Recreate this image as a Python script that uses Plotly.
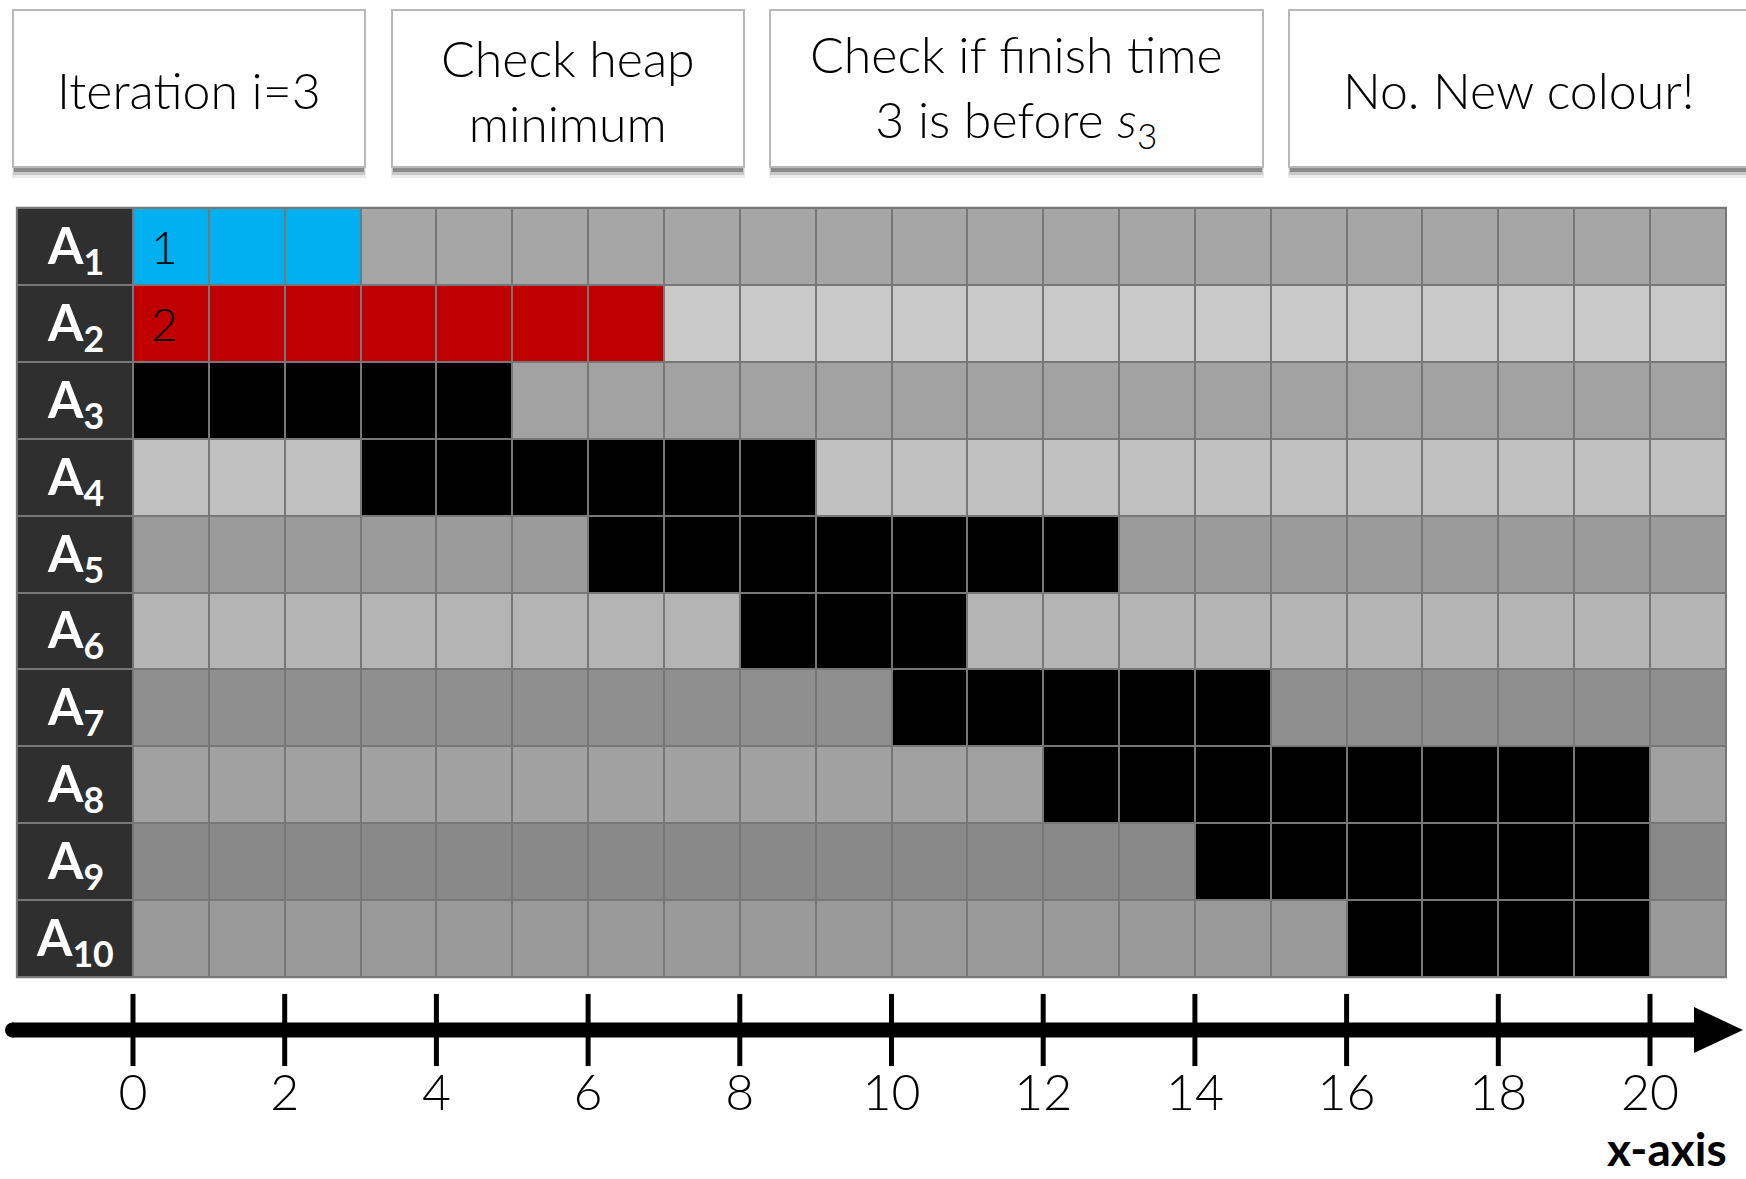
import plotly.graph_objects as go

# ---------------- data ----------------
row_labels = ["A<sub>1</sub>", "A<sub>2</sub>", "A<sub>3</sub>", "A<sub>4</sub>", "A<sub>5</sub>",
              "A<sub>6</sub>", "A<sub>7</sub>", "A<sub>8</sub>", "A<sub>9</sub>", "A<sub>10</sub>"]
interval_start = [0, 0, 0, 3, 6, 8, 10, 12, 14, 16]
interval_end = [3, 7, 5, 9, 13, 11, 15, 20, 20, 20]
interval_kind = ["blue", "red", "black", "black", "black", "black", "black", "black", "black", "black"]
cell_numbers = ["1", "2", "", "", "", "", "", "", "", ""]
row_shades = ["#a6a6a6", "#c9c9c9", "#a2a2a2", "#c0c0c0", "#9b9b9b",
              "#b4b4b4", "#8f8f8f", "#a1a1a1", "#898989", "#9a9a9a"]
n_columns = 21
tick_values = [0, 2, 4, 6, 8, 10, 12, 14, 16, 18, 20]
tick_labels = ["0", "2", "4", "6", "8", "10", "12", "14", "16", "18", "20"]
header_texts = ["Iteration i=3", "Check heap<br>minimum",
                "Check if finish time<br>3 is before <i>s</i><sub>3</sub>", "No. New colour!"]
axis_title = "x-axis"

# ---------------- geometry (pixels) ----------------
W, H = 1746, 1179
X0_PX, COL_PX = 133.0, 75.85      # x=0 pixel, px per unit
Y0_PX, ROW_PX = 208.0, 76.9       # top of row 1, px per row


def dx(px):
    return (px - X0_PX) / COL_PX


def dy(py):
    return (py - Y0_PX) / ROW_PX


def pxp(px):
    return px / W


def pyp(py):
    return 1 - py / H


kind_color = {"black": "#000000", "blue": "#00b0f0", "red": "#c00000"}
colors = row_shades + [kind_color["black"], kind_color["blue"], kind_color["red"]]
kind_code = {"black": 10, "blue": 11, "red": 12}
ncodes = len(colors)
colorscale = []
for i, c in enumerate(colors):
    colorscale.append([i / ncodes, c])
    colorscale.append([(i + 1) / ncodes, c])

z = []
for r in range(len(row_labels)):
    row = []
    for c in range(n_columns):
        if interval_start[r] <= c < interval_end[r]:
            row.append(kind_code[interval_kind[r]] + 0.5)
        else:
            row.append(r + 0.5)
    z.append(row)

fig = go.Figure()

fig.add_trace(go.Heatmap(
    z=z, x=list(range(n_columns + 1)), y=list(range(len(row_labels) + 1)),
    colorscale=colorscale, zmin=0, zmax=ncodes, showscale=False,
    xgap=2, ygap=2, hoverinfo="skip"))

# label column
label_left = dx(17)
fig.add_trace(go.Heatmap(
    z=[[0] for _ in row_labels], x=[label_left, 0], y=list(range(len(row_labels) + 1)),
    colorscale=[[0, "#2f2f2f"], [1, "#2f2f2f"]], showscale=False,
    xgap=2, ygap=2, hoverinfo="skip"))

shapes = []
# gray grid background (shows through the heatmap gaps)
shapes.append(dict(type="rect", xref="x", yref="y", x0=label_left - 0.015, x1=n_columns + 0.015,
                   y0=-0.015, y1=len(row_labels) + 0.015,
                   fillcolor="#777777", line=dict(width=0), layer="below"))

# time axis line + arrow
axis_y = dy(1030)
half_t = 7.5 / ROW_PX
shapes.append(dict(type="rect", xref="x", yref="y", x0=dx(12), x1=dx(1700),
                   y0=axis_y - half_t, y1=axis_y + half_t,
                   fillcolor="black", line=dict(width=0)))
shapes.append(dict(type="circle", xref="x", yref="y", x0=dx(5), x1=dx(20),
                   y0=axis_y - half_t, y1=axis_y + half_t,
                   fillcolor="black", line=dict(width=0)))
ah = 23 / ROW_PX
shapes.append(dict(type="path", xref="x", yref="y",
                   path=f"M {dx(1694)},{axis_y - ah} L {dx(1743)},{axis_y} L {dx(1694)},{axis_y + ah} Z",
                   fillcolor="black", line=dict(width=0)))

# header boxes
boxes = [(13, 365), (392, 744), (770, 1263), (1289, 1760)]
BY0, BY1 = 10, 167
for (x0, x1) in boxes:
    shapes.append(dict(type="rect", xref="paper", yref="paper",
                       x0=pxp(x0 - 1), x1=pxp(x1 + 1), y0=pyp(BY1 + 11), y1=pyp(BY0 + 8),
                       fillcolor="rgba(0,0,0,0.08)", line=dict(width=0)))
    shapes.append(dict(type="rect", xref="paper", yref="paper",
                       x0=pxp(x0), x1=pxp(x1), y0=pyp(BY1 + 8), y1=pyp(BY0 + 6),
                       fillcolor="rgba(0,0,0,0.15)", line=dict(width=0)))
    shapes.append(dict(type="rect", xref="paper", yref="paper",
                       x0=pxp(x0 + 1), x1=pxp(x1 - 1), y0=pyp(BY1 + 5), y1=pyp(BY0 + 4),
                       fillcolor="rgba(0,0,0,0.30)", line=dict(width=0)))
    shapes.append(dict(type="rect", xref="paper", yref="paper",
                       x0=pxp(x0), x1=pxp(x1), y0=pyp(BY1), y1=pyp(BY0),
                       fillcolor="white", line=dict(color="#b8b8b8", width=2)))

fig.update_layout(shapes=shapes)

# ticks and tick labels
fig.add_trace(go.Scatter(
    x=tick_values, y=[axis_y] * len(tick_values), mode="markers",
    marker=dict(symbol="line-ns", size=51.5, line=dict(width=5, color="black"), color="black"),
    hoverinfo="skip", showlegend=False))
fig.add_trace(go.Scatter(
    x=tick_values, y=[dy(1097)] * len(tick_values), mode="text", text=tick_labels,
    textfont=dict(family="Lato", size=50, color="black", weight=300),
    hoverinfo="skip", showlegend=False))

annotations = []
label_cx = (label_left + 0) / 2
for r, lab in enumerate(row_labels):
    annotations.append(dict(x=label_cx, y=r + 0.5, xref="x", yref="y", text=f"<b>{lab}</b>",
                            showarrow=False, yshift=-2,
                            font=dict(family="Lato", size=51, color="white")))
    if cell_numbers[r]:
        annotations.append(dict(x=interval_start[r] + 0.42, y=r + 0.5, xref="x", yref="y",
                                text=cell_numbers[r], showarrow=False,
                                font=dict(family="Lato", size=46, color="black", weight=300)))

header_cx = [189, 568, 1016, 1519]
for cx, t in zip(header_cx, header_texts):
    annotations.append(dict(x=pxp(cx), y=pyp(90), xref="paper", yref="paper", text=t,
                            showarrow=False, xanchor="center", yanchor="middle",
                            font=dict(family="Lato", size=50, color="black", weight=300)))

annotations.append(dict(x=pxp(1729), y=pyp(1178), xref="paper", yref="paper",
                        text=f"<b>{axis_title}</b>", showarrow=False,
                        xanchor="right", yanchor="bottom",
                        font=dict(family="Lato", size=46, color="black")))

fig.update_layout(
    annotations=annotations,
    width=W, height=H,
    margin=dict(l=0, r=0, t=0, b=0),
    paper_bgcolor="white", plot_bgcolor="white",
    showlegend=False,
    xaxis=dict(range=[dx(0), dx(W)], visible=False, fixedrange=True),
    yaxis=dict(range=[dy(H), dy(0)], visible=False, fixedrange=True),
)

fig.write_html("out.html", config={"displayModeBar": False},
               post_script="document.body.style.margin='0';document.body.style.overflow='hidden';")
